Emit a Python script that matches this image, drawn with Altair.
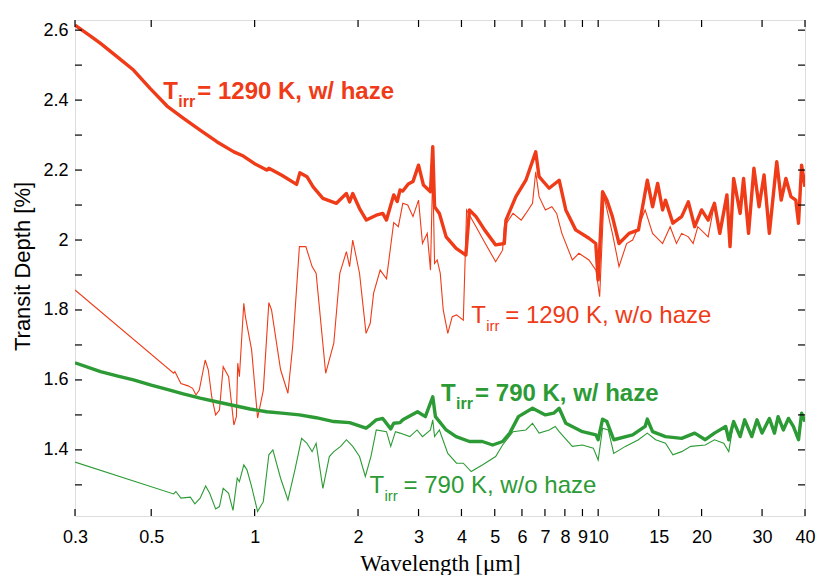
import altair as alt
import pandas as pd

RED = "#EF3B17"
GREEN = "#2C9B35"

# ---- T_irr = 1290 K, with haze (thick red)
wl_1290_haze = [0.30, 0.333, 0.356, 0.40, 0.444, 0.497, 0.556, 0.621, 0.694, 0.776, 0.87, 0.927, 0.997, 1.084,
                1.10, 1.20, 1.325, 1.354, 1.42, 1.48, 1.58,
                1.73, 1.85, 1.89, 1.93, 2.02, 2.115, 2.26, 2.36, 2.42, 2.54, 2.60, 2.65, 2.70, 2.80, 2.89, 3.0,
                3.1, 3.25, 3.30, 3.34, 3.45, 3.61, 3.86, 4.12, 4.22, 4.41, 4.67, 5.03, 5.33, 5.39, 5.76,
                6.16, 6.58, 6.73, 7.20, 7.70, 8.05, 8.6, 9.4, 9.84, 10.0, 10.3, 10.6, 11.0, 11.5, 12.3,
                13.1, 13.9, 14.4, 14.9, 15.4, 15.7, 16.5, 17.5, 18.3, 19.1, 20.0, 20.9, 21.8, 22.6, 23.7,
                24.2, 24.8, 25.9, 26.5, 27.4, 28.4, 29.4, 30.4, 31.5, 33.1, 34.1, 35.2, 36.4, 37.6, 38.3,
                39.1, 40.0]
td_1290_haze = [2.614, 2.583, 2.562, 2.522, 2.486, 2.433, 2.383, 2.348, 2.314, 2.281, 2.252, 2.240, 2.219, 2.200,
                2.205, 2.185, 2.159, 2.192, 2.181, 2.152, 2.119,
                2.105, 2.133, 2.109, 2.133, 2.090, 2.057, 2.071, 2.076, 2.057, 2.129, 2.110, 2.143, 2.140, 2.160, 2.167, 2.214,
                2.157, 2.138, 2.267, 2.095, 2.076, 2.009, 1.976, 1.957, 2.086, 2.067, 2.029, 1.986, 1.990, 2.057, 2.124,
                2.171, 2.252, 2.181, 2.148, 2.171, 2.086, 2.029, 2.005, 1.990, 1.886, 2.138, 2.114, 2.067, 1.990, 2.019,
                2.029, 2.171, 2.095, 2.162, 2.086, 2.114, 2.048, 2.067, 2.109, 2.038, 2.086, 2.057, 2.105, 2.019, 2.129,
                1.981, 2.176, 2.076, 2.176, 2.019, 2.205, 2.095, 2.186, 2.019, 2.224, 2.114, 2.176, 2.124, 2.114, 2.048,
                2.214, 2.152]

# ---- T_irr = 1290 K, without haze (thin red)
wl_1290_clear = [0.30, 0.581, 0.586, 0.61, 0.64, 0.66, 0.675, 0.69, 0.718, 0.733, 0.75, 0.77, 0.79, 0.81,
                 0.84, 0.87, 0.885, 0.893, 0.903, 0.93, 0.94, 0.98, 1.02, 1.06, 1.10, 1.12, 1.19, 1.25, 1.29,
                 1.35, 1.41, 1.47, 1.51, 1.61, 1.70, 1.77, 1.85, 1.89, 1.93, 2.02, 2.11, 2.17, 2.22, 2.32,
                 2.42, 2.54, 2.62, 2.70, 2.79, 2.89, 3.0, 3.08, 3.18, 3.25, 3.30, 3.34, 3.40, 3.47, 3.54,
                 3.65, 3.76, 3.87, 4.05, 4.14, 4.41, 4.72, 5.03, 5.27, 5.33, 5.65, 5.97, 6.16, 6.44, 6.58,
                 6.73, 7.02, 7.33, 7.57, 7.84, 8.41, 8.79, 9.4, 9.85, 10.1, 10.4, 11.0, 11.5, 12.1, 12.6,
                 13.1, 13.7, 14.4, 15.4, 16.2, 16.9, 17.5, 18.3, 18.9, 19.5, 20.9, 21.8, 22.6, 23.7, 24.2,
                 24.8, 25.9, 26.5, 27.4, 28.4, 29.4, 30.4, 31.5, 33.1, 34.1, 35.2, 36.4, 37.6, 38.3, 39.1,
                 40.0]
td_1290_clear = [1.857, 1.619, 1.624, 1.590, 1.583, 1.576, 1.557, 1.571, 1.657, 1.629, 1.552, 1.500, 1.514, 1.638,
                 1.609, 1.471, 1.495, 1.648, 1.609, 1.819, 1.781, 1.686, 1.491, 1.571, 1.821, 1.800, 1.629, 1.562, 1.695,
                 1.981, 1.981, 1.924, 1.905, 1.619, 1.705, 1.905, 1.967, 1.924, 2.000, 1.905, 1.733, 1.762, 1.848, 1.914,
                 1.889, 2.050, 2.038, 2.105, 2.100, 2.067, 2.114, 1.990, 2.019, 1.914, 2.200, 1.933, 1.943, 1.905, 1.800,
                 1.733, 1.781, 1.786, 1.771, 2.086, 2.038, 1.986, 1.938, 1.971, 2.038, 2.076, 2.057, 2.076, 2.105, 2.195,
                 2.124, 2.086, 2.095, 2.076, 2.019, 1.943, 1.962, 1.943, 1.914, 1.838, 2.124, 2.019, 1.924, 1.990, 2.000,
                 2.038, 2.086, 2.019, 1.990, 2.038, 1.990, 2.019, 2.009, 1.990, 2.038, 2.009, 2.105, 2.019, 2.129, 1.981,
                 2.176, 2.076, 2.176, 2.019, 2.205, 2.095, 2.186, 2.019, 2.224, 2.114, 2.176, 2.124, 2.114, 2.048, 2.214,
                 2.152]

# ---- T_irr = 790 K, with haze (thick green)
wl_790_haze = [0.30, 0.356, 0.40, 0.444, 0.50, 0.556, 0.62, 0.694, 0.78, 0.87, 0.97, 1.084, 1.20, 1.35, 1.51,
               1.70, 1.89, 2.11, 2.17, 2.26, 2.36, 2.49,
               2.54, 2.65, 2.70, 2.98, 3.14, 3.30, 3.36, 3.61, 3.86, 4.22, 4.60, 4.93, 5.27, 5.53, 5.86, 6.44,
               7.02, 7.42, 7.70, 8.05, 9.0, 9.85, 10.0, 10.3, 10.6, 11.1, 12.6, 13.7, 13.9, 14.4, 15.7, 17.5,
               19.1, 20.5, 21.8, 23.5, 24.0, 24.8, 25.9, 26.7, 28.0, 29.0, 30.0, 31.5, 32.6, 33.4, 34.6, 35.8,
               37.0, 38.3, 39.1, 40.0]
td_790_haze = [1.649, 1.624, 1.611, 1.600, 1.585, 1.573, 1.560, 1.548, 1.537, 1.527, 1.517, 1.509, 1.505, 1.500, 1.492,
               1.481, 1.478, 1.462, 1.471, 1.486, 1.490, 1.460,
               1.476, 1.478, 1.486, 1.509, 1.495, 1.552, 1.495, 1.457, 1.438, 1.424, 1.424, 1.414, 1.424, 1.448, 1.495, 1.519,
               1.500, 1.505, 1.519, 1.476, 1.452, 1.443, 1.429, 1.488, 1.481, 1.429, 1.443, 1.467, 1.488, 1.452, 1.438, 1.433,
               1.448, 1.429, 1.448, 1.467, 1.429, 1.481, 1.438, 1.486, 1.438, 1.486, 1.448, 1.490, 1.448, 1.495, 1.457, 1.490,
               1.467, 1.429, 1.505, 1.481]

# ---- T_irr = 790 K, without haze (thin green)
wl_790_clear = [0.30, 0.581, 0.59, 0.61, 0.65, 0.67, 0.694, 0.72, 0.74, 0.77, 0.79, 0.81, 0.84, 0.865, 0.89,
                0.903, 0.93, 0.95, 0.98, 1.02, 1.06, 1.10, 1.13, 1.19, 1.25, 1.31, 1.37, 1.42, 1.47, 1.51, 1.58,
                1.65, 1.70, 1.78, 1.85, 1.93, 2.02, 2.10, 2.18, 2.26, 2.42, 2.49, 2.57, 2.65, 2.83, 2.97, 3.08,
                3.25, 3.30, 3.34, 3.45, 3.65, 3.87, 4.05, 4.27, 4.60, 5.03, 5.27, 5.65, 6.16, 6.44, 6.73, 7.20,
                7.50, 7.70, 8.41, 9.0, 9.68, 10.0, 10.3, 10.7, 11.1, 12.0, 13.1, 13.9, 14.7, 15.7, 16.5, 17.5,
                18.6, 20.5, 21.8, 23.2, 24.0, 24.8, 25.9, 26.7, 28.0, 29.0, 30.0, 31.5, 32.6, 33.4, 34.6, 35.8,
                37.0, 38.3, 39.1, 40.0]
td_790_clear = [1.365, 1.274, 1.281, 1.262, 1.265, 1.246, 1.262, 1.297, 1.276, 1.231, 1.238, 1.290, 1.276, 1.227, 1.319,
                1.309, 1.357, 1.343, 1.295, 1.224, 1.252, 1.386, 1.400, 1.319, 1.257, 1.343, 1.433, 1.419, 1.395, 1.419, 1.290,
                1.381, 1.395, 1.410, 1.429, 1.410, 1.381, 1.324, 1.381, 1.457, 1.452, 1.410, 1.452, 1.448, 1.438, 1.457, 1.438,
                1.457, 1.486, 1.438, 1.457, 1.390, 1.362, 1.362, 1.338, 1.357, 1.381, 1.414, 1.452, 1.457, 1.476, 1.448, 1.457,
                1.467, 1.452, 1.410, 1.414, 1.405, 1.371, 1.462, 1.457, 1.390, 1.410, 1.429, 1.448, 1.429, 1.419, 1.386, 1.395,
                1.410, 1.414, 1.429, 1.419, 1.395, 1.481, 1.438, 1.486, 1.438, 1.486, 1.448, 1.490, 1.448, 1.495, 1.457, 1.490,
                1.467, 1.429, 1.505, 1.481]

# ---- axes
x_ticks = [0.3, 0.5, 1, 2, 3, 4, 5, 6, 7, 8, 9, 10, 15, 20, 30, 40]
y_labels = [1.4, 1.6, 1.8, 2.0, 2.2, 2.4, 2.6]
y_ticks = [1.3, 1.4, 1.5, 1.6, 1.7, 1.8, 1.9, 2.0, 2.1, 2.2, 2.3, 2.4, 2.5, 2.6]
x_domain = [0.3, 40]
y_domain = [1.211, 2.629]

# ---- annotations
label_wl = [0.542, 4.27, 3.49, 2.16]
label_td = [2.404, 1.762, 1.541, 1.277]
label_rest = ["= 1290 K, w/ haze", "= 1290 K, w/o haze", "= 790 K, w/ haze", "= 790 K, w/o haze"]
label_color = [RED, RED, GREEN, GREEN]
label_bold = [True, False, True, False]

W, H = 730, 496


def frame(wl, td, name):
    return pd.DataFrame({"wl": wl, "td": td, "series": name})


series_names = ["1290 w/o haze", "790 w/o haze", "1290 w/ haze", "790 w/ haze"]
thin = pd.concat([frame(wl_1290_clear, td_1290_clear, series_names[0]),
                  frame(wl_790_clear, td_790_clear, series_names[1])])
thick = pd.concat([frame(wl_1290_haze, td_1290_haze, series_names[2]),
                   frame(wl_790_haze, td_790_haze, series_names[3])])

xs = alt.Scale(type="log", domain=x_domain, nice=False)
ys = alt.Scale(domain=y_domain, nice=False, zero=False)
cs = alt.Scale(domain=series_names, range=[RED, GREEN, RED, GREEN])

x_axis = alt.Axis(values=x_ticks, format="~g", title="Wavelength [μm]", grid=False, ticks=False,
                  domain=False, labelFont="Liberation Sans", labelFontSize=18, labelColor="black",
                  labelPadding=12, labelFlush=False, labelOverlap=False, labelBound=False,
                  titleFont="Liberation Serif", titleFontSize=23, titleFontWeight="normal",
                  titleColor="black", titleBaseline="alphabetic", titleY=54)
y_axis = alt.Axis(values=y_labels, format="~g", title="Transit Depth [%]", grid=False, ticks=False,
                  domain=False, labelFont="Liberation Sans", labelFontSize=18, labelColor="black",
                  labelPadding=7, labelFlush=False, labelOverlap=False,
                  titleFont="Liberation Sans", titleFontSize=22, titleFontWeight="normal",
                  titleColor="black", titleBaseline="alphabetic", titleX=-46, titleY=246,
                  titleAngle=270, titleAlign="center")

thin_layer = alt.Chart(thin).mark_line(strokeWidth=1.1, clip=True).encode(
    x=alt.X("wl:Q", scale=xs, axis=x_axis),
    y=alt.Y("td:Q", scale=ys, axis=y_axis),
    color=alt.Color("series:N", scale=cs, legend=None),
    detail="series:N",
)
thick_layer = alt.Chart(thick).mark_line(strokeWidth=3.4, clip=True, strokeJoin="round").encode(
    x=alt.X("wl:Q", scale=xs),
    y=alt.Y("td:Q", scale=ys),
    color=alt.Color("series:N", scale=cs, legend=None),
    detail="series:N",
)

xt = pd.DataFrame({"v": x_ticks})
yt = pd.DataFrame({"v": y_ticks})
tick_len = 7
ticks = [
    alt.Chart(xt).mark_rule(color="black", strokeWidth=1.2).encode(
        x=alt.X("v:Q", scale=xs), y=alt.value(H), y2=alt.value(H - tick_len)),
    alt.Chart(xt).mark_rule(color="black", strokeWidth=1.2).encode(
        x=alt.X("v:Q", scale=xs), y=alt.value(0), y2=alt.value(tick_len)),
    alt.Chart(yt).mark_rule(color="black", strokeWidth=1.2).encode(
        y=alt.Y("v:Q", scale=ys), x=alt.value(0), x2=alt.value(tick_len)),
    alt.Chart(yt).mark_rule(color="black", strokeWidth=1.2).encode(
        y=alt.Y("v:Q", scale=ys), x=alt.value(W), x2=alt.value(W - tick_len)),
]

lab = pd.DataFrame({"wl": label_wl, "td": label_td, "rest": label_rest,
                    "color": label_color, "bold": label_bold})
lab["T"] = "T"
lab["sub"] = "irr"

text_layers = []
for bold, sub_size, sub_dx, eq_dx in [(True, 16, 15, 34), (False, 15, 15, 34)]:
    d = lab[lab["bold"] == bold]
    weight = "bold" if bold else "normal"
    base = alt.Chart(d).encode(
        x=alt.X("wl:Q", scale=xs), y=alt.Y("td:Q", scale=ys),
        color=alt.Color("color:N", scale=None))
    text_layers.append(base.mark_text(align="left", baseline="alphabetic", font="Liberation Sans",
                                      fontSize=24, fontWeight=weight).encode(text="T:N"))
    text_layers.append(base.mark_text(align="left", baseline="alphabetic", font="Liberation Sans",
                                      fontSize=sub_size, fontWeight=weight, dx=sub_dx, dy=8).encode(text="sub:N"))
    text_layers.append(base.mark_text(align="left", baseline="alphabetic", font="Liberation Sans",
                                      fontSize=24, fontWeight=weight, dx=eq_dx).encode(text="rest:N"))

chart = alt.layer(thin_layer, thick_layer, *ticks, *text_layers).properties(
    width=W, height=H,
    autosize=alt.AutoSizeParams(type="none"),
    padding={"left": 67, "top": 12, "right": 17, "bottom": 59},
).configure_view(stroke="black", strokeWidth=1.5).configure(background="white")

chart.save("out.html", embed_options={"renderer": "svg", "actions": False})
